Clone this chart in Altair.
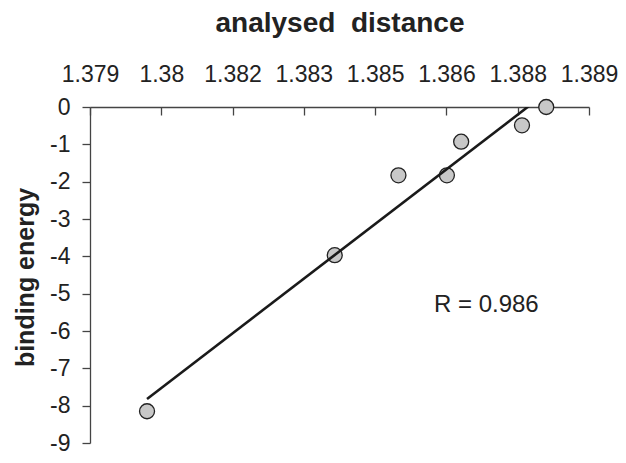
import altair as alt
import pandas as pd

# data
bond_length = [1.3802, 1.38415, 1.38549, 1.38651, 1.38681, 1.38809, 1.3886]
binding_energy = [-8.15, -3.97, -1.83, -1.83, -0.93, -0.49, 0.0]

x_ticks = [1.379, 1.3805, 1.382, 1.3835, 1.385, 1.3865, 1.388, 1.3895]
x_tick_labels = ["1.379", "1.38", "1.382", "1.383", "1.385", "1.386", "1.388", "1.389"]
y_ticks = [0, -1, -2, -3, -4, -5, -6, -7, -8, -9]

note_text = ["R = 0.986"]
note_x = [1.38734]
note_y = [-5.49]

df = pd.DataFrame({"d": bond_length, "e": binding_energy})
note_df = pd.DataFrame({"d": note_x, "e": note_y, "t": note_text})

FONT = "Liberation Sans"
INK = "#222222"
AX = "#444444"
W, H = 499, 336
x_dom = [x_ticks[0], x_ticks[-1]]
x_scale = alt.Scale(domain=x_dom, nice=False, zero=False)
y_scale = alt.Scale(domain=[-9, 0], nice=False, zero=False)

label_arr = "[" + ",".join("'" + s + "'" for s in x_tick_labels) + "]"
label_expr = f"{label_arr}[round((datum.value - {x_ticks[0]}) / 0.0015)]"
y_label_expr = "datum.value == 0 ? '0' : '-' + abs(datum.value)"

points = alt.Chart(df).mark_point(
    shape="circle", filled=True, fill="#c8c8c8", stroke=INK,
    strokeWidth=1.3, fillOpacity=1, strokeOpacity=1, size=225,
).encode(
    x=alt.X("d:Q", scale=x_scale, axis=alt.Axis(
        orient="top", values=x_ticks, labelExpr=label_expr, tickSize=0,
        labelFontSize=23, labelFont=FONT, labelColor=INK, labelPadding=26,
        labelBaseline="alphabetic", labelFlush=False, labelOverlap=False,
        domainColor=AX, domainWidth=1.3, grid=False,
        title="analysed\u00a0 distance", titleFont=FONT, titleFontSize=28,
        titleFontWeight="bold", titleColor=INK, titleY=-76,
        titleBaseline="alphabetic",
    )),
    y=alt.Y("e:Q", scale=y_scale, axis=alt.Axis(
        orient="left", values=y_ticks, labelExpr=y_label_expr,
        tickSize=8, tickColor=AX, tickWidth=1.3,
        labelFontSize=23, labelFont=FONT, labelColor=INK, labelPadding=12,
        labelOverlap=False, labelFlush=False,
        domainColor=AX, domainWidth=1.3, grid=False,
        title="binding energy", titleFont=FONT, titleFontSize=25,
        titleFontWeight="bold", titleColor=INK, titleAngle=270,
        titleX=-57, titleY=H / 2 + 2, titleBaseline="alphabetic",
    )),
)

trend = alt.Chart(df).transform_regression("d", "e").mark_line(
    color="#1a1a1a", strokeWidth=2.6, clip=True,
).encode(
    x=alt.X("d:Q", scale=x_scale, axis=alt.Axis(
        orient="bottom", offset=-H, values=x_ticks, tickSize=8,
        tickColor=AX, tickWidth=1.3, labels=False, domain=False,
        grid=False, title=None,
    )),
    y=alt.Y("e:Q", scale=y_scale, axis=None),
)

note = alt.Chart(note_df).mark_text(
    font=FONT, fontSize=24, color=INK, align="center", baseline="alphabetic",
).encode(
    x=alt.X("d:Q", scale=x_scale, axis=None),
    y=alt.Y("e:Q", scale=y_scale, axis=None),
    text="t:N",
)

chart = alt.layer(points, trend, note).resolve_axis(
    x="independent", y="independent"
).properties(
    width=W, height=H,
    autosize=alt.AutoSizeParams(type="none"),
    padding={"left": 82, "top": 99, "right": 29, "bottom": 12},
    background="white",
).configure_view(stroke=None)

chart.save("out.html", embed_options={"renderer": "svg", "actions": False})
